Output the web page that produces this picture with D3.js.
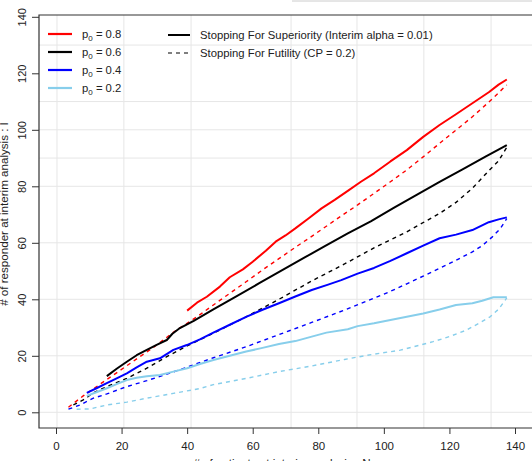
<!DOCTYPE html>
<html>
<head>
<meta charset="utf-8">
<script src="https://cdn.jsdelivr.net/npm/d3@7"></script>
<style>
  body { margin: 0; background: #fff; }
  svg text { font-family: "Liberation Sans", Arial, sans-serif; fill: #222; }
</style>
</head>
<body>
<div id="chart"></div>
<script>
// values: [n, responders]
const supP08 = [[40,36],[43,38.8],[46,40.9],[50,44.5],[53,47.8],[57,50.6],[60,53.3],[64,57.2],[67,60.4],[70,62.6],[73,65.1],[77,68.6],[81,72.2],[85,75.2],[89,78.4],[93,81.6],[97,84.6],[102,88.8],[107,92.8],[112,97.5],[117,101.7],[122,105.5],[127,109.4],[132,113.3],[135,116],[137.5,117.8]];
const futP08 = [[3.8,1.8],[8.3,5.8],[15,11.2],[19,14.4],[25.6,19.7],[30,23.2],[36,28.5],[43,33.8],[48,38],[53,42.1],[58,46.2],[63,50.4],[68,54.4],[73,58.4],[78,62.3],[82,65.5],[87,69.5],[92,73.4],[97,77.5],[102,81.6],[107,85.8],[112,90.4],[117,95.2],[122,99.9],[127,104.6],[132,109.8],[137.5,115.9]];
const supP06 = [[15.5,12.8],[18.5,15.4],[21.6,17.9],[24.6,20.2],[27.7,22.1],[30.7,23.9],[33.8,25.6],[35.5,27.8],[37.5,29.6],[42,32.4],[48,36.4],[55,41],[62,45.7],[69,50.3],[76,54.9],[82,58.8],[89,63.3],[96,67.6],[103,72.4],[110,77],[117,81.6],[124,86],[131,90.5],[137.5,94.6]];
const futP06 = [[5.3,2.6],[8.3,4.4],[11.4,6.9],[15.5,9.1],[21.6,12],[27.7,15.6],[33.8,19.7],[40,23.5],[48,28],[58,33.8],[68,40],[78,46.5],[88,52.5],[97,58.2],[107,63.9],[117,70.4],[122,74.3],[127,79.3],[132,85.5],[135,89],[137.5,93.8]];
const supP04 = [[9.4,6.9],[12.5,8.6],[15.5,10.3],[18.5,12],[21.6,13.8],[24.6,15.9],[27.7,17.9],[31.7,19.1],[35.8,22.1],[39.9,23.8],[43.9,25.8],[48,28.2],[53,31],[58,33.8],[63,36.3],[68,38.6],[73,41],[78,43.3],[83,45.2],[87,46.8],[92,49.1],[97,51.1],[102,53.6],[107,56.3],[112,59],[117,61.6],[122,62.9],[127,64.5],[132,67.3],[135,68.3],[137.5,69]];
const futP04 = [[3.8,1.1],[7.3,2.6],[11.4,5],[15.5,6.5],[21.6,9.1],[27.7,11.2],[33.8,13.5],[40,16],[48,19.3],[58,23.2],[68,27.5],[78,31.8],[88,36.2],[97,40.4],[102,42.8],[107,45.5],[112,48.2],[117,51],[122,53.8],[127,56.8],[130,59],[133,62],[135.5,65],[137.5,68.6]];
const supP02 = [[9.4,5.8],[12.5,7.2],[15.5,8.5],[18.5,10],[21.6,11.4],[24.6,12.2],[27.7,12.8],[31.7,13.2],[35.8,14.4],[40,15.6],[43.9,17.1],[48,18.5],[53,20],[58,21.5],[63,22.8],[68,24.2],[73,25.2],[78,26.8],[82.5,28.2],[89,29.4],[92,30.5],[97,31.5],[102,32.7],[107,33.8],[112,35],[117,36.4],[122,38],[127,38.6],[130,39.5],[133.4,40.7],[137.5,40.7]];
const futP02 = [[6.3,1.1],[10.4,1.2],[15.5,2.6],[21.6,3.6],[27.7,5],[35.8,6.7],[43.9,8.4],[48,9.8],[58,12],[68,14.4],[78,16.4],[88,18.7],[95,20.2],[105,22],[115,25],[120,26.8],[125,29],[129,31.5],[132.4,33.8],[135,36.5],[137.5,40.5]];

const groupLabels = ["0.8", "0.6", "0.4", "0.2"];
const groupColors = ["red", "black", "blue", "#87ceeb"];
const boundaryLabels = ["Stopping For Superiority (Interim alpha = 0.01)", "Stopping For Futility (CP = 0.2)"];

const xTicks = [0, 20, 40, 60, 80, 100, 120, 140];
const yTicks = [0, 20, 40, 60, 80, 100, 120, 140];
// the faint grid in the picture does not sit on the ticks
const gridX = [0.3, 20.7, 41.2, 71.7, 91.8, 112.2, 132.7];
const gridY = [0, 20, 40, 60, 80, 90, 100, 110, 130];

const width = 532;
const height = 461;
const box = { left: 39, top: 15, bottom: 428 };

const svg = d3.select("#chart")
    .append("svg")
    .attr("width", width)
    .attr("height", height);

const x = d3.scaleLinear().domain([0, 140]).range([56, 515]);
const y = d3.scaleLinear().domain([0, 140]).range([412.3, 16.8]);

// grid
svg.append("g")
    .selectAll("line")
    .data(gridX)
    .join("line")
    .attr("x1", d => x(d)).attr("x2", d => x(d))
    .attr("y1", box.top).attr("y2", box.bottom)
    .attr("stroke", "#e6e6e6");

svg.append("g")
    .selectAll("line")
    .data(gridY)
    .join("line")
    .attr("x1", box.left).attr("x2", width)
    .attr("y1", d => y(d)).attr("y2", d => y(d))
    .attr("stroke", "#e6e6e6");

// lines
const line = d3.line()
    .x(d => x(d[0]))
    .y(d => y(d[1]));

const series = [
    { data: futP02, color: groupColors[3], dashed: true },
    { data: futP04, color: groupColors[2], dashed: true },
    { data: futP06, color: groupColors[1], dashed: true },
    { data: futP08, color: groupColors[0], dashed: true },
    { data: supP02, color: groupColors[3], dashed: false },
    { data: supP04, color: groupColors[2], dashed: false },
    { data: supP06, color: groupColors[1], dashed: false },
    { data: supP08, color: groupColors[0], dashed: false }
];

svg.append("g")
    .selectAll("path")
    .data(series)
    .join("path")
    .attr("fill", "none")
    .attr("stroke", d => d.color)
    .attr("stroke-width", d => d.dashed ? 1.4 : 2)
    .attr("stroke-dasharray", d => d.dashed ? "4,4" : null)
    .attr("stroke-linejoin", "round")
    .attr("d", d => line(d.data));

// frame (right side falls outside the picture)
svg.append("path")
    .attr("fill", "none")
    .attr("stroke", "#333")
    .attr("stroke-width", 1.2)
    .attr("d", `M${width},${box.top}H${box.left}V${box.bottom}H${width}`);

svg.append("line")
    .attr("x1", 292).attr("x2", width)
    .attr("y1", 1).attr("y2", 1)
    .attr("stroke", "#ccc");

// axes
const xAxis = svg.append("g")
    .attr("transform", `translate(0, ${box.bottom})`)
    .call(d3.axisBottom(x).tickValues(xTicks).tickSize(6).tickPadding(8));
xAxis.select(".domain").remove();
xAxis.selectAll("line").attr("stroke", "#333");
xAxis.selectAll("text")
    .attr("fill", "#222")
    .style("font-size", "11.5px")
    .attr("font-family", null);

const yAxis = svg.append("g")
    .attr("transform", `translate(${box.left}, 0)`)
    .call(d3.axisLeft(y).tickValues(yTicks).tickSize(7));
yAxis.select(".domain").remove();
yAxis.selectAll("line").attr("stroke", "#333");
yAxis.selectAll("text")
    .attr("x", null).attr("dy", null)
    .attr("text-anchor", "middle")
    .attr("transform", "translate(-13, 0) rotate(-90)")
    .attr("fill", "#222")
    .style("font-size", "11px")
    .attr("font-family", null);

// axis titles
svg.append("text")
    .attr("text-anchor", "middle")
    .attr("x", -214)
    .attr("y", 7.5)
    .attr("transform", "rotate(-90)")
    .style("font-size", "11.6px")
    .text("# of responder at interim analysis : I");

svg.append("text")
    .attr("text-anchor", "middle")
    .attr("x", 282)
    .attr("y", 467)
    .style("font-size", "11.6px")
    .text("# of patients at interim analysis : N");

// legend
const legend = svg.append("g");
const rowGap = 18;

const left = legend.selectAll("g.grp")
    .data(groupLabels)
    .join("g")
    .attr("class", "grp")
    .attr("transform", (d, i) => `translate(0, ${34 + i * rowGap})`);
left.append("line")
    .attr("x1", 48).attr("x2", 72)
    .attr("stroke", (d, i) => groupColors[i])
    .attr("stroke-width", 2.2);
const lt = left.append("text")
    .attr("x", 82).attr("y", 4)
    .style("font-size", "11.3px");
lt.append("tspan").text("p");
lt.append("tspan").attr("dy", 2.5).style("font-size", "8px").text("0");
lt.append("tspan").attr("dy", -2.5).text(d => " = " + d);

const right = legend.selectAll("g.bnd")
    .data(boundaryLabels)
    .join("g")
    .attr("class", "bnd")
    .attr("transform", (d, i) => `translate(0, ${35 + i * rowGap})`);
right.append("line")
    .attr("x1", 168).attr("x2", 190)
    .attr("stroke", "black")
    .attr("stroke-width", (d, i) => i ? 1.2 : 2)
    .attr("stroke-dasharray", (d, i) => i ? "4,4" : null);
right.append("text")
    .attr("x", 200).attr("y", 4)
    .style("font-size", "11.3px")
    .text(d => d);
</script>
</body>
</html>
